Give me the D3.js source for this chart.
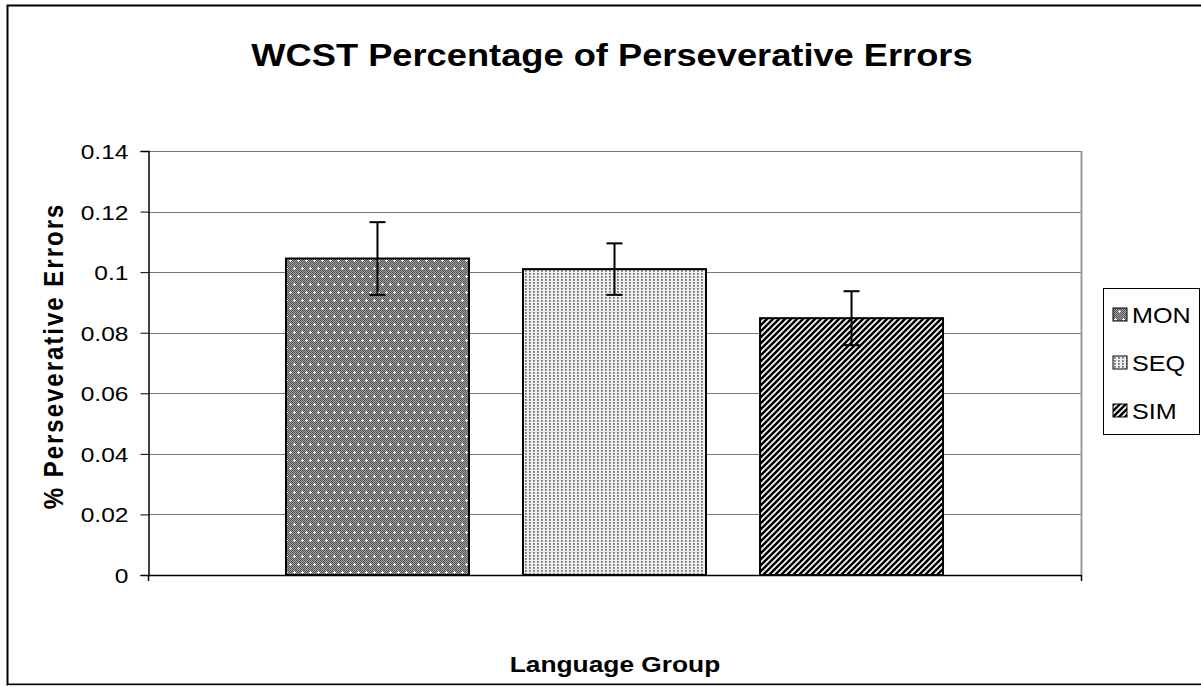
<!DOCTYPE html>
<html><head><meta charset="utf-8">
<script src="https://cdn.jsdelivr.net/npm/d3@7/dist/d3.min.js"></script>
<style>body{margin:0;background:#fff;font-family:"Liberation Sans",Arial,sans-serif;}</style>
</head><body><svg id="c" width="1201" height="687"></svg>
<script>
const groups = ["MON","SEQ","SIM"];
const means = [0.1045, 0.101, 0.0848];
const errors = [0.012, 0.0085, 0.0089];
const yTicks = [0,0.02,0.04,0.06,0.08,0.1,0.12,0.14];
const tickLabels = ["0","0.02","0.04","0.06","0.08","0.1","0.12","0.14"];
const categories = [""];

const SX = 1.17; // horizontal stretch of the reference text
const FF = "Liberation Sans, Arial, sans-serif";
const svg = d3.select("#c");
const defs = svg.append("defs");
// MON pattern
const p1 = defs.append("pattern").attr("id","pMON").attr("patternUnits","userSpaceOnUse").attr("width",8).attr("height",16);
p1.append("rect").attr("width",8).attr("height",16).attr("fill","#a0a0a0");
for(let i=0;i<8;i+=2)for(let j=0;j<16;j+=2){p1.append("rect").attr("x",i).attr("y",j).attr("width",1).attr("height",1).attr("fill","#555");p1.append("rect").attr("x",i+1).attr("y",j+1).attr("width",1).attr("height",1).attr("fill","#555");}
[[2,4],[6,12]].forEach(([x,y])=>{p1.append("rect").attr("x",x-1).attr("y",y).attr("width",3).attr("height",1).attr("fill","#fff");p1.append("rect").attr("x",x).attr("y",y-1).attr("width",1).attr("height",3).attr("fill","#fff");});
// SEQ pattern
const p2 = defs.append("pattern").attr("id","pSEQ").attr("patternUnits","userSpaceOnUse").attr("width",4).attr("height",3);
p2.append("rect").attr("width",4).attr("height",3).attr("fill","#f0f0f0");
p2.append("rect").attr("x",1).attr("y",0).attr("width",2).attr("height",2).attr("fill","#9a9a9a");
p2.append("rect").attr("x",1).attr("y",0).attr("width",1).attr("height",1).attr("fill","#666");
// SIM pattern
const p3 = defs.append("pattern").attr("id","pSIM").attr("patternUnits","userSpaceOnUse").attr("width",6).attr("height",6);
p3.append("rect").attr("width",6).attr("height",6).attr("fill","#fff");
p3.append("path").attr("d","M-1,1 L1,-1 M0,6 L6,0 M5,7 L7,5").attr("stroke","#000").attr("stroke-width",2.6);
const fills = {MON:"url(#pMON)",SEQ:"url(#pSEQ)",SIM:"url(#pSIM)"};

function stext(parent,x,y,str,size,weight,anchor){
  return parent.append("text").attr("transform",`translate(${x},${y}) scale(${SX},1)`)
   .attr("text-anchor",anchor||"start").attr("font-size",size).attr("font-weight",weight||"normal")
   .attr("font-family",FF).attr("fill","#000").text(str);
}

// outer border
svg.append("rect").attr("x",7.5).attr("y",5.5).attr("width",1200).attr("height",679).attr("fill","none").attr("stroke","#000").attr("stroke-width",2);
svg.append("line").attr("x1",8).attr("x2",1201).attr("y1",685.5).attr("y2",685.5).attr("stroke","#d0d0d0");

const L=148, R=1081, T=151, B=575;
const y = d3.scaleLinear().domain([0,0.14]).range([B,T]);
const x0 = d3.scaleBand().domain(categories).range([L,R]).paddingInner(0).paddingOuter(0.21);
const x1 = d3.scaleBand().domain(groups).range([x0(""), x0("")+x0.bandwidth()]).paddingInner(0.228).paddingOuter(0);

// gridlines
svg.append("g").selectAll("line").data(yTicks.slice(1)).join("line")
 .attr("x1",L).attr("x2",R).attr("y1",d=>Math.round(y(d))+0.5).attr("y2",d=>Math.round(y(d))+0.5)
 .attr("stroke","#777").attr("stroke-width",1.2);
svg.append("line").attr("x1",R+0.5).attr("x2",R+0.5).attr("y1",T).attr("y2",B).attr("stroke","#999").attr("stroke-width",2);

// y axis
const yAxis = d3.axisLeft(y).tickValues(yTicks).tickFormat("").tickSize(8);
const ga = svg.append("g").attr("transform",`translate(${L+0.5},0)`).call(yAxis);
ga.select(".domain").attr("stroke","#000").attr("stroke-width",1.5);
ga.selectAll(".tick line").attr("stroke","#000");
ga.selectAll(".tick").each(function(d,i){ stext(d3.select(this),-20,7.5,tickLabels[i],21,"normal","end"); });
// x axis line
svg.append("line").attr("x1",L).attr("x2",R).attr("y1",B+0.5).attr("y2",B+0.5).attr("stroke","#000").attr("stroke-width",1.5);
[L,R].forEach(v=>svg.append("line").attr("x1",v+0.5).attr("x2",v+0.5).attr("y1",B).attr("y2",B+6).attr("stroke","#000").attr("stroke-width",1.5));

// bars
svg.append("g").selectAll("rect").data(groups).join("rect")
 .attr("x",d=>x1(d)).attr("width",x1.bandwidth())
 .attr("y",(d,i)=>y(means[i])).attr("height",(d,i)=>B-y(means[i]))
 .attr("fill",d=>fills[d]).attr("stroke","#000").attr("stroke-width",2);
// error bars
const eg = svg.append("g").attr("stroke","#000").attr("stroke-width",2);
groups.forEach((g,i)=>{
  const cx = x1(g)+x1.bandwidth()/2;
  eg.append("line").attr("x1",cx).attr("x2",cx).attr("y1",y(means[i]+errors[i])).attr("y2",y(means[i]-errors[i]));
  [means[i]+errors[i], means[i]-errors[i]].forEach(v=>eg.append("line").attr("x1",cx-8).attr("x2",cx+8).attr("y1",y(v)).attr("y2",y(v)));
});

// title & labels
stext(svg,612,66,"WCST Percentage of Perseverative Errors",31,"bold","middle");
svg.append("text").attr("transform","translate(63,356) rotate(-90) scale(1,"+SX+")").attr("text-anchor","middle").attr("font-size",24).attr("font-weight","bold").attr("letter-spacing",2).attr("font-family",FF).text("% Perseverative Errors");
stext(svg,615,672,"Language Group",22.5,"bold","middle");

// legend
svg.append("rect").attr("x",1103.5).attr("y",288.5).attr("width",96).attr("height",146).attr("fill","#fff").attr("stroke","#000").attr("stroke-width",1);
const lg = svg.append("g").selectAll("g").data(groups).join("g").attr("transform",(d,i)=>`translate(1113,${315+i*48})`);
lg.append("rect").attr("x",0).attr("y",-7).attr("width",14).attr("height",13).attr("fill",d=>fills[d]).attr("stroke","#000").attr("stroke-width",1);
lg.each(function(d){ stext(d3.select(this),19,8,d,21.5,"normal","start"); });
</script></body></html>
